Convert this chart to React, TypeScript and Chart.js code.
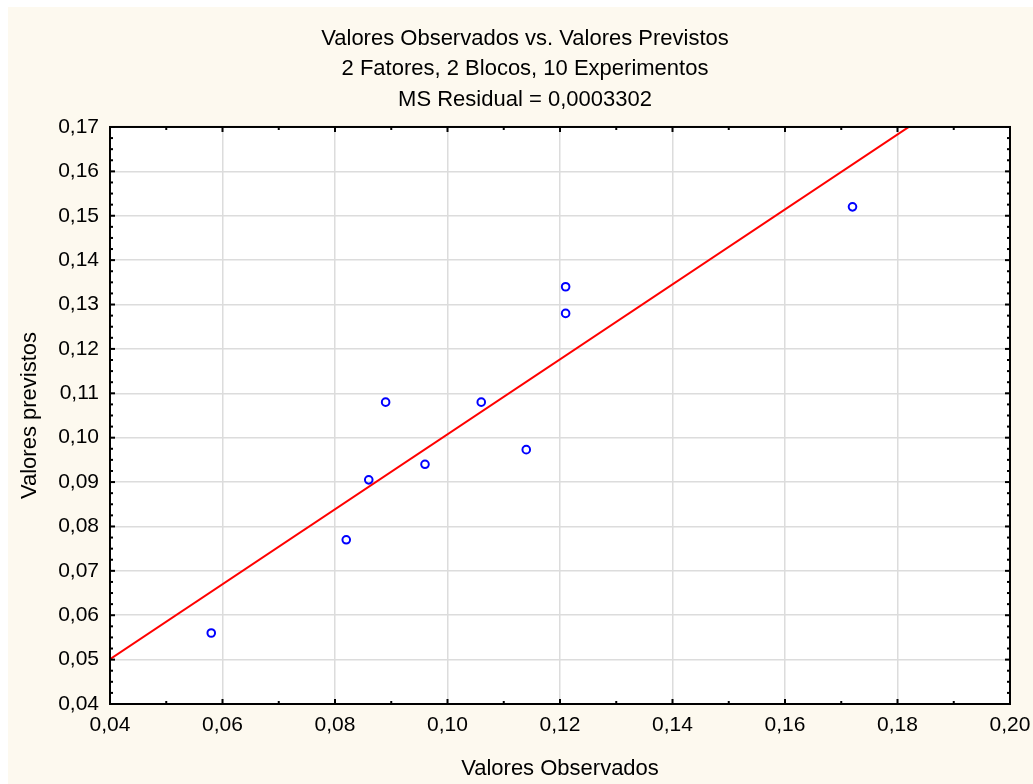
import React, { useEffect, useRef } from 'react';
import { Chart, registerables } from 'chart.js';

Chart.register(...registerables);

// Data
const observed = [0.058, 0.082, 0.086, 0.089, 0.096, 0.106, 0.114, 0.121, 0.121, 0.172];
const predicted = [0.056, 0.077, 0.0905, 0.108, 0.094, 0.108, 0.0973, 0.134, 0.128, 0.152];
const fitX = [0.04, 0.2];
const fitY = [0.0501, 0.1852];

const xTicks = [0.04, 0.06, 0.08, 0.1, 0.12, 0.14, 0.16, 0.18, 0.2];
const yTicks = [0.04, 0.05, 0.06, 0.07, 0.08, 0.09, 0.1, 0.11, 0.12, 0.13, 0.14, 0.15, 0.16, 0.17];

const titleLines = [
  'Valores Observados vs. Valores Previstos',
  '2 Fatores, 2 Blocos, 10 Experimentos',
  'MS Residual = 0,0003302',
];
const xTitle = 'Valores Observados';
const yTitle = 'Valores previstos';

const FAMILY = "'Liberation Sans', Arial, Helvetica, sans-serif";
const fmt = (v: any) => Number(v).toFixed(2).replace('.', ',');

const framePlugin = {
  id: 'framePlugin',
  beforeDraw(chart: any) {
    const { ctx, chartArea: a } = chart;
    ctx.save();
    ctx.fillStyle = '#fdf9ef';
    ctx.fillRect(0, 0, chart.width, chart.height);
    ctx.fillStyle = '#ffffff';
    ctx.fillRect(a.left, a.top, a.right - a.left, a.bottom - a.top);
    ctx.restore();
  },
  afterDraw(chart: any) {
    const { ctx, chartArea: a, scales } = chart;
    const xs = scales.x;
    const ys = scales.y;
    ctx.save();
    ctx.strokeStyle = '#000';
    ctx.lineWidth = 2;
    const line = (x1: number, y1: number, x2: number, y2: number) => {
      ctx.beginPath();
      ctx.moveTo(x1, y1);
      ctx.lineTo(x2, y2);
      ctx.stroke();
    };
    for (let i = 0; i < xTicks.length; i++) {
      const px = xs.getPixelForValue(xTicks[i]);
      line(px, a.bottom, px, a.bottom - 5);
      line(px, a.top, px, a.top + 5);
      if (i < xTicks.length - 1) {
        const mid = xs.getPixelForValue((xTicks[i] + xTicks[i + 1]) / 2);
        line(mid, a.bottom, mid, a.bottom - 3);
        line(mid, a.top, mid, a.top + 3);
      }
    }
    for (let i = 0; i < yTicks.length; i++) {
      const py = ys.getPixelForValue(yTicks[i]);
      line(a.left, py, a.left + 5, py);
      line(a.right, py, a.right - 5, py);
      if (i < yTicks.length - 1) {
        for (let k = 1; k < 4; k++) {
          const v = yTicks[i] + ((yTicks[i + 1] - yTicks[i]) * k) / 4;
          const pm = ys.getPixelForValue(v);
          line(a.left, pm, a.left + 3, pm);
          line(a.right, pm, a.right - 3, pm);
        }
      }
    }
    ctx.lineWidth = 2;
    ctx.strokeRect(a.left, a.top, a.right - a.left, a.bottom - a.top);
    ctx.restore();
  },
};

export default function App() {
  const ref = useRef<HTMLCanvasElement | null>(null);

  useEffect(() => {
    if (!ref.current) return;
    const chart = new Chart(ref.current, {
      type: 'scatter',
      data: {
        datasets: [
          {
            type: 'scatter',
            data: observed.map((x, i) => ({ x, y: predicted[i] })),
            pointRadius: 3.8,
            pointHoverRadius: 3.8,
            pointBorderWidth: 2,
            pointBorderColor: '#0000ff',
            pointBackgroundColor: 'rgba(0,0,0,0)',
          } as any,
          {
            type: 'line',
            data: fitX.map((x, i) => ({ x, y: fitY[i] })),
            borderColor: '#ff0000',
            borderWidth: 2,
            pointRadius: 0,
            fill: false,
            showLine: true,
          } as any,
        ],
      },
      options: {
        responsive: false,
        animation: false,
        devicePixelRatio: 1,
        layout: { padding: { left: 9, right: 0, top: 0, bottom: 0 } },
        plugins: {
          legend: { display: false },
          tooltip: { enabled: false },
          title: {
            display: true,
            text: titleLines,
            color: '#000',
            font: { family: FAMILY, size: 22, weight: 'normal', lineHeight: 1.386 },
            padding: { top: 16.25, bottom: 12.25 },
          },
        },
        scales: {
          x: {
            type: 'linear',
            min: 0.04,
            max: 0.2,
            afterBuildTicks: (s: any) => {
              s.ticks = xTicks.map((v) => ({ value: v }));
            },
            afterFit: (s: any) => {
              s.height = 80;
              s.paddingLeft = 0;
              s.paddingRight = 0;
            },
            ticks: {
              padding: 9,
              color: '#000',
              font: { family: FAMILY, size: 21 },
              callback: fmt,
              maxRotation: 0,
              autoSkip: false,
            },
            grid: { color: '#dcdcdc', lineWidth: 1.5, drawTicks: false },
            border: { display: false },
            title: {
              display: true,
              text: xTitle,
              color: '#000',
              font: { family: FAMILY, size: 22 },
              padding: { top: 0, bottom: 2.3 },
            },
          },
          y: {
            type: 'linear',
            min: 0.04,
            max: 0.17,
            afterBuildTicks: (s: any) => {
              s.ticks = yTicks.map((v) => ({ value: v }));
            },
            afterFit: (s: any) => {
              s.width = 93;
              s.paddingTop = 0;
              s.paddingBottom = 0;
            },
            ticks: {
              padding: 11,
              color: '#000',
              font: { family: FAMILY, size: 21 },
              callback: fmt,
              autoSkip: false,
            },
            grid: { color: '#dcdcdc', lineWidth: 1.5, drawTicks: false },
            border: { display: false },
            title: {
              display: true,
              text: yTitle,
              color: '#000',
              font: { family: FAMILY, size: 22 },
              padding: { top: 0, bottom: 0 },
            },
          },
          yRight: {
            type: 'linear',
            position: 'right',
            min: 0.04,
            max: 0.17,
            display: true,
            afterFit: (s: any) => {
              s.width = 23;
              s.paddingTop = 0;
              s.paddingBottom = 0;
            },
            ticks: { display: false },
            grid: { display: false, drawTicks: false },
            border: { display: false },
            title: { display: false },
          },
        },
      } as any,
      plugins: [framePlugin],
    });
    return () => chart.destroy();
  }, []);

  return (
    <div style={{ position: 'absolute', left: 8, top: 7, width: 1025, height: 777 }}>
      <canvas ref={ref} width={1025} height={777} style={{ display: 'block', width: 1025, height: 777 }} />
    </div>
  );
}
